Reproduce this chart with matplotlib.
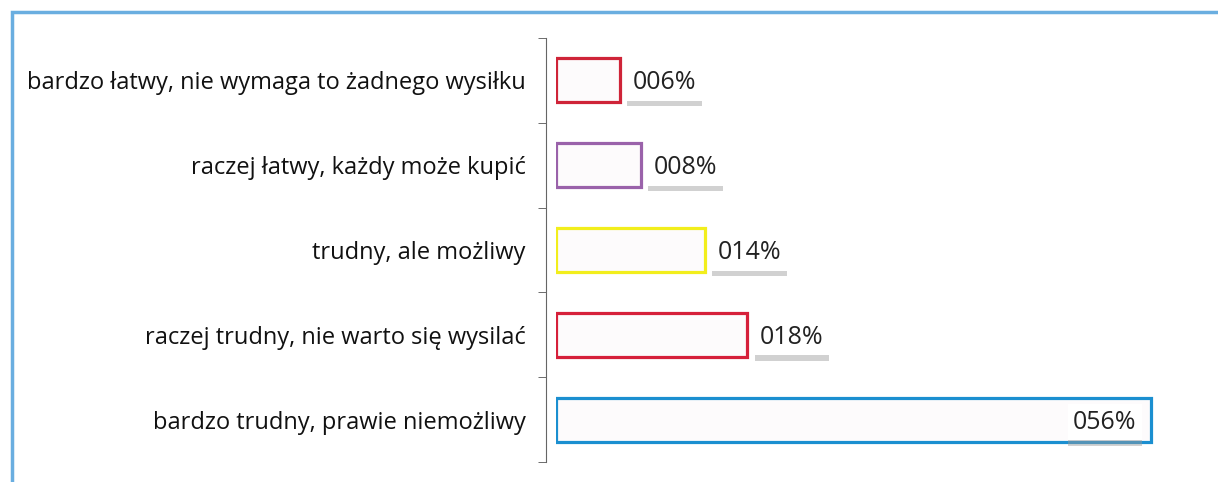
import matplotlib.pyplot as plt
import matplotlib.patheffects as pe
from matplotlib.patches import Rectangle

# dane
kategorie = ['bardzo łatwy, nie wymaga to żadnego wysiłku',
             'raczej łatwy, każdy może kupić',
             'trudny, ale możliwy',
             'raczej trudny, nie warto się wysilać',
             'bardzo trudny, prawie niemożliwy']
wartosci = [0.06, 0.08, 0.14, 0.18, 0.56]
etykiety = ['006%', '008%', '014%', '018%', '056%']
kolory = ['#cf2438', '#9a62aa', '#f2ee1c', '#d6203a', '#1b8fd0']

plt.rcParams['font.family'] = ['Open Sans', 'DejaVu Sans']
fig = plt.figure(figsize=(12.18, 4.82), dpi=100)

# ramka wykresu (niebieska, przycięta)
fig.patches.append(Rectangle((12 / 1218, -0.2), 1.2, 1.2 - 12 / 482,
                             transform=fig.transFigure, fill=False,
                             edgecolor='#6aaee0', linewidth=2.5))

ax = fig.add_axes([556 / 1218, 20 / 482, 638 / 1218, 424 / 482])
y = list(range(len(kategorie)))
ax.barh(y, wartosci, height=0.52, color='#fdfbfc', edgecolor=kolory, linewidth=2.3)

for i, (v, t) in enumerate(zip(wartosci, etykiety)):
    if v > 0.4:
        txt = ax.text(v - 0.014, i + 0.03, t, ha='right', va='center', fontsize=18, color='#222222',
                      bbox=dict(facecolor='white', edgecolor='none', pad=4))
    else:
        txt = ax.text(v + 0.012, i + 0.03, t, ha='left', va='center', fontsize=18, color='#222222',
                      bbox=dict(facecolor='white', edgecolor='none', pad=4))
    txt.get_bbox_patch().set_path_effects([pe.SimplePatchShadow(offset=(0, -4), shadow_rgbFace='#999999', alpha=0.45), pe.Normal()])

ax.set_ylim(4.5, -0.5)
ax.set_xlim(0, 0.6)
ax.set_yticks(y)
ax.set_yticklabels(kategorie)
ax.tick_params(axis='y', which='major', length=0, pad=15, labelsize=17, labelcolor='#111111')
ax.set_yticks([i - 0.5 for i in range(len(kategorie) + 1)], minor=True)
ax.tick_params(axis='y', which='minor', length=6, color='#555555')
ax.set_xticks([])
for s in ['top', 'right', 'bottom']:
    ax.spines[s].set_visible(False)
ax.spines['left'].set_position(('outward', 7))
ax.spines['left'].set_color('#666666')

plt.savefig('out.png', dpi=100)
